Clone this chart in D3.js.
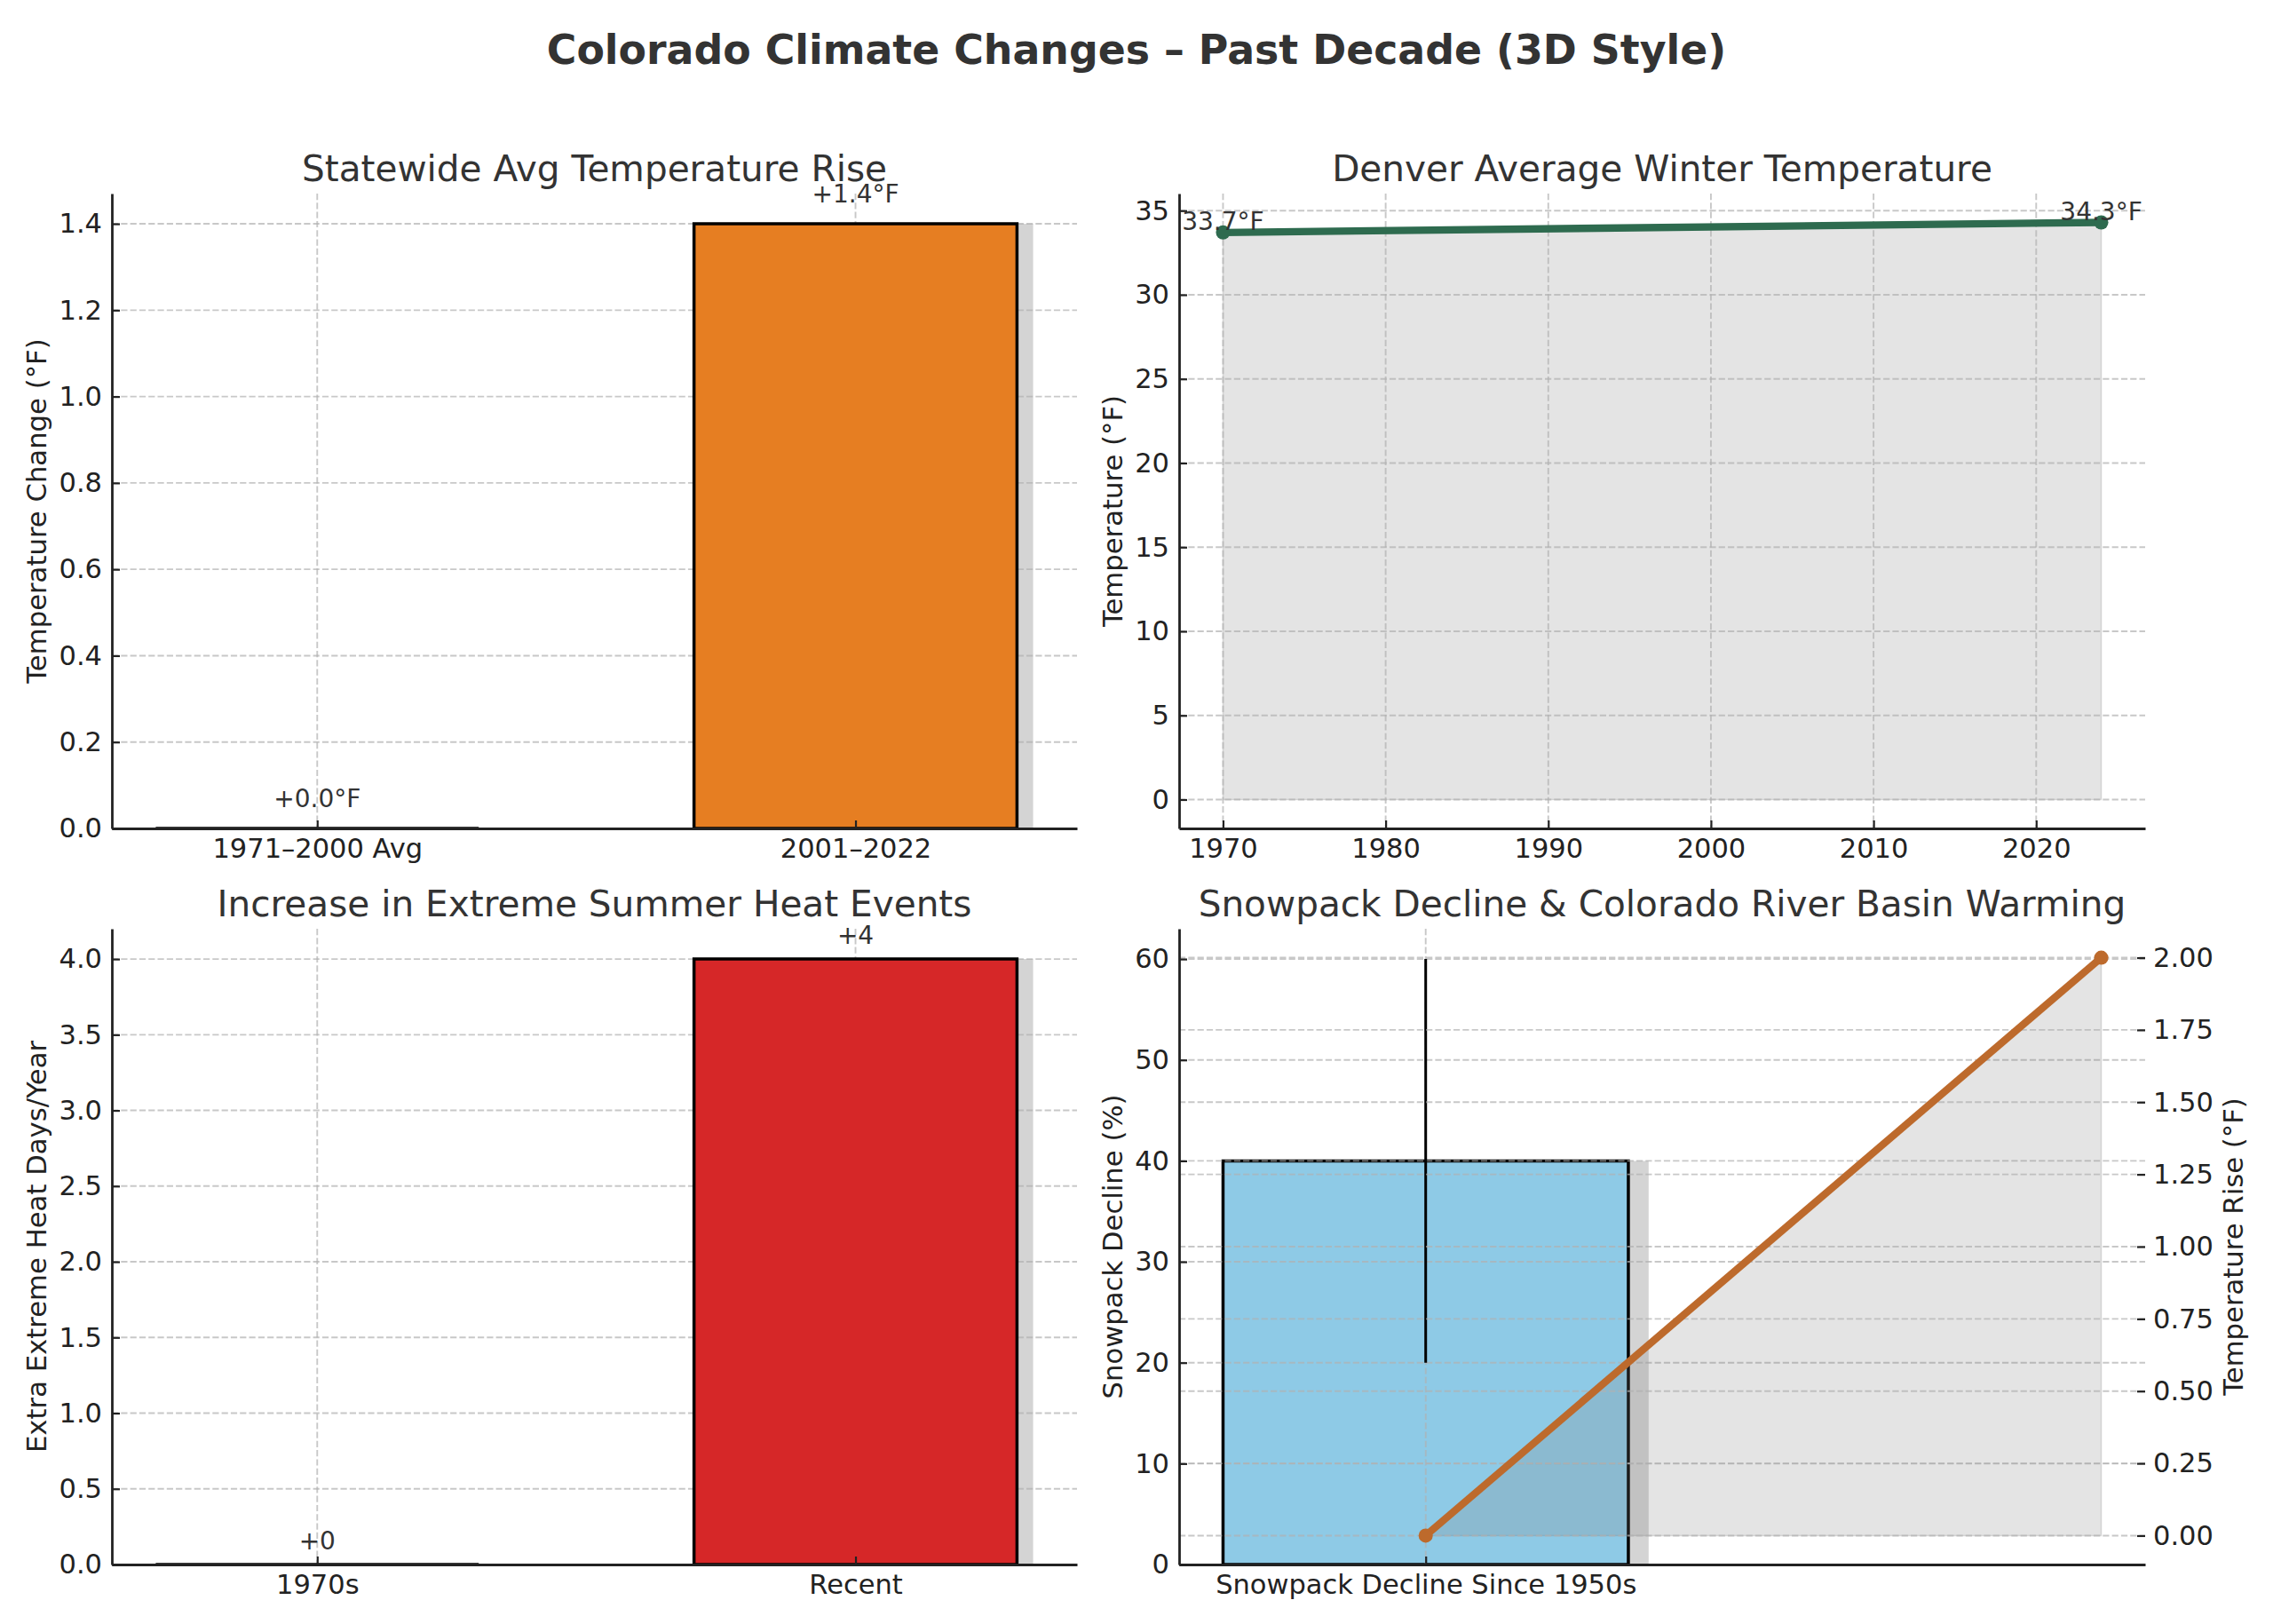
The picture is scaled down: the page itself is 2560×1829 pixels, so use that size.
<!DOCTYPE html>
<html>
<head>
<meta charset="utf-8">
<script src="https://cdn.jsdelivr.net/npm/d3@7"></script>
<style>
  body { margin: 0; background: #fff; }
  text { font-family: "DejaVu Sans", sans-serif; }
  .grid { stroke: #b0b0b0; stroke-opacity: 0.7; stroke-width: 1.9; stroke-dasharray: 7.2 3.1; fill: none; }
</style>
</head>
<body>
<script>
const W = 2560
const H = 1829

// data
const suptitle = 'Colorado Climate Changes – Past Decade (3D Style)'

const tempCats = ['1971–2000 Avg', '2001–2022']
const tempRise = [0.0, 1.4]
const tempLabels = ['+0.0°F', '+1.4°F']
const tempTicks = [0, 0.2, 0.4, 0.6, 0.8, 1.0, 1.2, 1.4]

const denverYears = [1970, 2024]
const denverTemp = [33.7, 34.3]
const denverLabels = ['33.7°F', '34.3°F']
const yearTicks = [1970, 1980, 1990, 2000, 2010, 2020]
const denverTicks = [0, 5, 10, 15, 20, 25, 30, 35]

const heatCats = ['1970s', 'Recent']
const heatDays = [0, 4]
const heatLabels = ['+0', '+4']
const heatTicks = [0, 0.5, 1.0, 1.5, 2.0, 2.5, 3.0, 3.5, 4.0]

const snowCats = ['Snowpack Decline Since 1950s']
const snowDecline = [40]
const snowErr = [20]
const snowTicks = [0, 10, 20, 30, 40, 50, 60]
const basinX = [0, 1]
const basinRise = [0, 2.0]
const basinTicks = [0, 0.25, 0.5, 0.75, 1.0, 1.25, 1.5, 1.75, 2.0]

const colors = { orange: '#e67e22', red: '#d62728', blue: '#8ecae6', green: '#2e6b4f', rust: '#bd6a2c', shadow: '#d4d4d4' }
const tickSize = 30.5

const svg = d3.select('body').append('svg').attr('width', W).attr('height', H)

svg.append('text').attr('x', W / 2).attr('y', 72).attr('text-anchor', 'middle')
  .attr('font-size', 45.8).attr('font-weight', 'bold').attr('fill', '#333').text(suptitle)

const cols = [[126, 1213], [1328, 2416]]
const rows = [[218, 933], [1046, 1762]]
const box = (c, r) => ({ x0: cols[c][0], x1: cols[c][1], y0: rows[r][0], y1: rows[r][1] })

function hGrid(g, y, ticks, b) {
  g.append('g').selectAll('line').data(ticks).enter().append('line').attr('class', 'grid')
    .attr('x1', b.x0).attr('x2', b.x1).attr('y1', d => y(d)).attr('y2', d => y(d))
}
function vGrid(g, x, ticks, b) {
  g.append('g').selectAll('line').data(ticks).enter().append('line').attr('class', 'grid')
    .attr('y1', b.y0).attr('y2', b.y1).attr('x1', d => x(d)).attr('x2', d => x(d))
}

function styleAxis(a, keepDomain) {
  a.attr('font-family', '"DejaVu Sans", sans-serif').attr('font-size', tickSize)
  a.selectAll('text').attr('fill', '#222')
  a.selectAll('.tick line').attr('stroke', '#222').attr('stroke-width', 2.2)
  if (keepDomain) a.select('.domain').attr('stroke', '#222').attr('stroke-width', 2.8)
  else a.select('.domain').remove()
}

function axes(g, x, y, xTicks, xFmt, yTicks, yFmt, b) {
  const ax = g.append('g').attr('transform', `translate(0,${b.y1})`)
    .call(d3.axisBottom(x).tickValues(xTicks).tickFormat(xFmt).tickSizeInner(-9).tickSizeOuter(0).tickPadding(11.5))
  styleAxis(ax, true)
  const ay = g.append('g').attr('transform', `translate(${b.x0},0)`)
    .call(d3.axisLeft(y).tickValues(yTicks).tickFormat(yFmt).tickSizeInner(-9).tickSizeOuter(0).tickPadding(11))
  styleAxis(ay, true)
}

function titles(g, b, title, ylab, ylabX) {
  g.append('text').attr('x', (b.x0 + b.x1) / 2).attr('y', b.y0 - 14).attr('text-anchor', 'middle')
    .attr('font-size', 40.6).attr('fill', '#333').text(title)
  g.append('text').attr('transform', `translate(${ylabX},${(b.y0 + b.y1) / 2}) rotate(-90)`)
    .attr('text-anchor', 'middle').attr('font-size', 30.7).attr('fill', '#222').text(ylab)
}

function barPath(x, y, cx, w, v) {
  return `M${x(cx - w / 2)},${y(0)}H${x(cx + w / 2)}V${y(v)}H${x(cx - w / 2)}Z`
}

// bar panel with a shadow bar
function barPanel(b, cats, vals, labels, ticks, tickFmt, ydom, color, title, ylab, labelOff) {
  const g = svg.append('g')
  const x = d3.scaleLinear().domain([-0.3815, 1.4115]).range([b.x0, b.x1])
  const y = d3.scaleLinear().domain(ydom).range([b.y1, b.y0])
  const idx = cats.map((_, i) => i)
  g.selectAll('.shadow').data(vals).enter().append('path').attr('class', 'shadow')
    .attr('d', (v, i) => barPath(x, y, i + 0.03, 0.6, v)).attr('fill', colors.shadow)
  hGrid(g, y, ticks, b)
  vGrid(g, x, idx, b)
  g.selectAll('.bar').data(vals).enter().append('path').attr('class', 'bar')
    .attr('d', (v, i) => barPath(x, y, i, 0.6, v))
    .attr('fill', (v, i) => i === 0 ? 'none' : color).attr('stroke', '#000').attr('stroke-width', 3.5)
  g.selectAll('.lab').data(vals).enter().append('text')
    .attr('x', (v, i) => x(i)).attr('y', v => y(v + labelOff)).attr('text-anchor', 'middle')
    .attr('font-size', 28).attr('fill', '#333').text((v, i) => labels[i])
  axes(g, x, y, idx, i => cats[i], ticks, tickFmt, b)
  titles(g, b, title, ylab, 52)
}

barPanel(box(0, 0), tempCats, tempRise, tempLabels, tempTicks, d3.format('.1f'), [0, 1.47], colors.orange,
  'Statewide Avg Temperature Rise', 'Temperature Change (°F)', 0.05)
barPanel(box(0, 1), heatCats, heatDays, heatLabels, heatTicks, d3.format('.1f'), [0, 4.2], colors.red,
  'Increase in Extreme Summer Heat Events', 'Extra Extreme Heat Days/Year', 0.1)

// Denver winter temperature
{
  const b = box(1, 0)
  const g = svg.append('g')
  const x = d3.scaleLinear().domain([1967.3, 2026.7]).range([b.x0, b.x1])
  const y = d3.scaleLinear().domain([-1.715, 36.015]).range([b.y1, b.y0])
  const pts = denverYears.map((yr, i) => [yr, denverTemp[i]])
  g.append('path').datum(pts)
    .attr('d', d3.area().x(d => x(d[0])).y0(y(0)).y1(d => y(d[1])))
    .attr('fill', 'gray').attr('fill-opacity', 0.21).attr('stroke', 'gray').attr('stroke-opacity', 0.25).attr('stroke-width', 1.5)
  hGrid(g, y, denverTicks, b)
  vGrid(g, x, yearTicks, b)
  g.append('path').datum(pts).attr('d', d3.line().x(d => x(d[0])).y(d => y(d[1])))
    .attr('fill', 'none').attr('stroke', colors.green).attr('stroke-width', 8.3)
  g.selectAll('.pt').data(pts).enter().append('circle')
    .attr('cx', d => x(d[0])).attr('cy', d => y(d[1])).attr('r', 8).attr('fill', colors.green)
  g.selectAll('.lab').data(pts).enter().append('text')
    .attr('x', d => x(d[0])).attr('y', d => y(d[1]) - 3).attr('text-anchor', 'middle')
    .attr('font-size', 28).attr('fill', '#333').text((d, i) => denverLabels[i])
  axes(g, x, y, yearTicks, d3.format('d'), denverTicks, d3.format('d'), b)
  titles(g, b, 'Denver Average Winter Temperature', 'Temperature (°F)', 1264)
}

// Snowpack + basin warming (twin axes)
{
  const b = box(1, 1)
  const g = svg.append('g')
  const x = d3.scaleLinear().domain([-0.365, 1.065]).range([b.x0, b.x1])
  const y = d3.scaleLinear().domain([0, 63]).range([b.y1, b.y0])
  const yr = d3.scaleLinear().domain([-0.1, 2.1]).range([b.y1, b.y0])
  g.selectAll('.shadow').data(snowDecline).enter().append('path')
    .attr('d', (v, i) => barPath(x, y, i + 0.03, 0.6, v)).attr('fill', colors.shadow)
  g.selectAll('.bar').data(snowDecline).enter().append('path')
    .attr('d', (v, i) => barPath(x, y, i, 0.6, v))
    .attr('fill', colors.blue).attr('stroke', '#000').attr('stroke-width', 3.5)
  hGrid(g, y, snowTicks, b)
  vGrid(g, x, [0], b)
  g.selectAll('.err').data(snowDecline).enter().append('line')
    .attr('x1', (v, i) => x(i)).attr('x2', (v, i) => x(i))
    .attr('y1', (v, i) => y(v - snowErr[i])).attr('y2', (v, i) => y(v + snowErr[i]))
    .attr('stroke', '#000').attr('stroke-width', 3)
  const pts = basinX.map((d, i) => [d, basinRise[i]])
  g.append('path').datum(pts)
    .attr('d', d3.area().x(d => x(d[0])).y0(yr(0)).y1(d => yr(d[1])))
    .attr('fill', 'gray').attr('fill-opacity', 0.21).attr('stroke', 'gray').attr('stroke-opacity', 0.25).attr('stroke-width', 1.5)
  hGrid(g, yr, basinTicks, b)
  g.append('path').datum(pts).attr('d', d3.line().x(d => x(d[0])).y(d => yr(d[1])))
    .attr('fill', 'none').attr('stroke', colors.rust).attr('stroke-width', 8.3)
  g.selectAll('.pt').data(pts).enter().append('circle')
    .attr('cx', d => x(d[0])).attr('cy', d => yr(d[1])).attr('r', 8).attr('fill', colors.rust)
  axes(g, x, y, [0], i => snowCats[i], snowTicks, d3.format('d'), b)
  const ar = g.append('g').attr('transform', `translate(${b.x1},0)`)
    .call(d3.axisRight(yr).tickValues(basinTicks).tickFormat(d3.format('.2f')).tickSizeInner(-9).tickSizeOuter(0).tickPadding(9))
  styleAxis(ar, false)
  titles(g, b, 'Snowpack Decline & Colorado River Basin Warming', 'Snowpack Decline (%)', 1264)
  g.append('text').attr('transform', `translate(2526,${(b.y0 + b.y1) / 2}) rotate(-90)`)
    .attr('text-anchor', 'middle').attr('font-size', 30.7).attr('fill', '#222').text('Temperature Rise (°F)')
}
</script>
</body>
</html>
